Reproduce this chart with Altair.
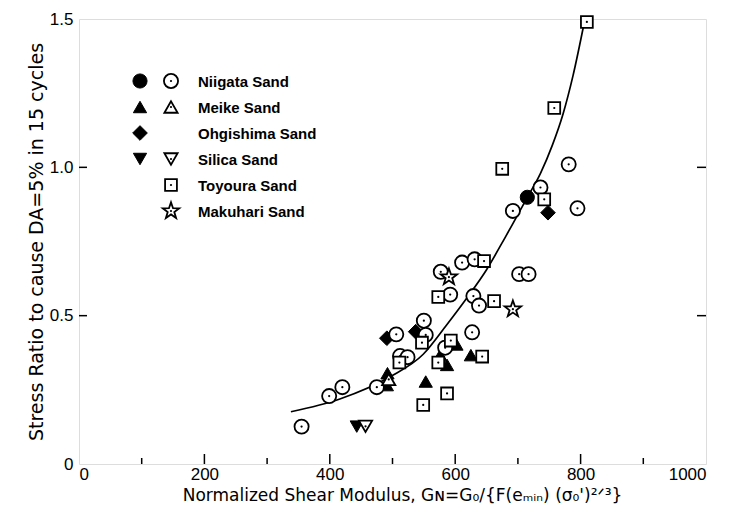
import altair as alt
import pandas as pd

# ---------------- data ----------------
niigata_open_x = [781, 736, 795, 692, 611, 631, 577, 702, 717, 592, 629, 638, 550, 506, 553, 627, 584, 512, 524, 475, 420, 399, 355]
niigata_open_y = [1.010, 0.932, 0.862, 0.853, 0.679, 0.690, 0.648, 0.640, 0.640, 0.571, 0.566, 0.534, 0.483, 0.437, 0.435, 0.444, 0.392, 0.364, 0.360, 0.259, 0.259, 0.229, 0.126]
niigata_filled_x = [715]
niigata_filled_y = [0.899]
meike_filled_x = [492, 491, 553, 576, 587, 602, 625]
meike_filled_y = [0.306, 0.266, 0.278, 0.367, 0.334, 0.403, 0.367]
meike_open_x = [494]
meike_open_y = [0.285]
ohgishima_x = [491, 537, 748]
ohgishima_y = [0.424, 0.446, 0.847]
silica_filled_x = [443]
silica_filled_y = [0.126]
silica_open_x = [457]
silica_open_y = [0.127]
toyoura_x = [810, 758, 675, 742, 646, 573, 662, 547, 593, 573, 643, 511, 587, 549]
toyoura_y = [1.49, 1.20, 0.995, 0.892, 0.684, 0.563, 0.549, 0.409, 0.416, 0.342, 0.362, 0.342, 0.238, 0.199]
makuhari_x = [590, 692]
makuhari_y = [0.630, 0.522]

curve_x = [338, 416, 496, 549, 586, 618, 650, 680, 714, 736, 755, 772, 788, 806]
curve_y = [0.176, 0.219, 0.294, 0.370, 0.468, 0.558, 0.655, 0.765, 0.895, 0.980, 1.075, 1.180, 1.310, 1.490]

x_major_ticks = [200, 400, 600, 800]
x_minor_ticks = [100, 300, 500, 700, 900]
x_labels = [0, 200, 400, 600, 800, 1000]
y_labels = [0, 0.5, 1.0, 1.5]
y_ticks = [0.5, 1.0]

legend_labels = ["Niigata Sand", "Meike Sand", "Ohgishima Sand", "Silica Sand", "Toyoura Sand", "Makuhari Sand"]

STAR = ("M0,-1L0.235,-0.324L0.951,-0.309L0.38,0.124L0.588,0.809L0,0.4"
        "L-0.588,0.809L-0.38,0.124L-0.951,-0.309L-0.235,-0.324Z")

legend_filled = ["circle", "triangle-up", "diamond", "triangle-down", "", ""]
legend_open = ["circle", "triangle-up", "", "triangle-down", "square", STAR]

SIZES = {"circle": 200, "triangle-up": 175, "triangle-down": 175, "diamond": 215, "square": 140, STAR: 300}

# ---------------- tables ----------------
rows = []
def add(xs, ys, shape, style):
    for a, b in zip(xs, ys):
        rows.append({"x": a, "y": b, "shape": shape, "style": style, "size": SIZES[shape]})

add(niigata_open_x, niigata_open_y, "circle", "open")
add(niigata_filled_x, niigata_filled_y, "circle", "filled")
add(meike_open_x, meike_open_y, "triangle-up", "open")
add(meike_filled_x, meike_filled_y, "triangle-up", "filled")
add(ohgishima_x, ohgishima_y, "diamond", "filled")
add(silica_filled_x, silica_filled_y, "triangle-down", "filled")
add(silica_open_x, silica_open_y, "triangle-down", "open")
add(toyoura_x, toyoura_y, "square", "open")
add(makuhari_x, makuhari_y, STAR, "open")
pts = pd.DataFrame(rows)

curve = pd.DataFrame({"x": curve_x, "y": curve_y})
xt_major = pd.DataFrame({"v": x_major_ticks})
xt_minor = pd.DataFrame({"v": x_minor_ticks})
yt = pd.DataFrame({"v": y_ticks})

leg = pd.DataFrame({
    "row": list(range(len(legend_labels))),
    "label": legend_labels,
    "fshape": legend_filled,
    "oshape": legend_open,
})
leg["fsize"] = [SIZES.get(s, 0) for s in leg["fshape"]]
leg["osize"] = [SIZES.get(s, 0) for s in leg["oshape"]]

FONT = "Liberation Sans"
TFONT = "DejaVu Sans"
xs = alt.Scale(domain=[0, 1000], nice=False, zero=False)
ys = alt.Scale(domain=[0, 1.5], nice=False, zero=False)

x_axis = alt.Axis(values=x_labels, ticks=False, domain=False, grid=False, format="d",
                  labelFont=FONT, labelFontSize=17, labelColor="black", labelPadding=2,
                  title="Normalized Shear Modulus, G\u0274=G\u2080/{F(e\u2098\u1d62\u2099) (\u03c3\u2080')\u00b2\u141f\u00b3}",
                  titleFont=TFONT, titleFontSize=17, titleFontWeight="normal", titleColor="black",
                  titleX=323, titleY=31, titleBaseline="middle", titleAnchor="middle")
y_axis = alt.Axis(values=y_labels, ticks=False, domain=False, grid=False,
                  labelFont=FONT, labelFontSize=17, labelColor="black", labelPadding=6,
                  labelExpr="datum.value == 0 ? '0' : format(datum.value, '.1f')",
                  title="Stress Ratio to cause DA=5% in 15 cycles",
                  titleFont=TFONT, titleFontSize=19, titleFontWeight="normal", titleColor="black",
                  titlePadding=3)

X = alt.X("x:Q", scale=xs, axis=x_axis)
Y = alt.Y("y:Q", scale=ys, axis=y_axis)

line = alt.Chart(curve).mark_line(color="black", strokeWidth=1.7, interpolate="monotone", clip=True).encode(x=X, y=Y)

filled = alt.Chart(pts).transform_filter("datum.style == 'filled'").mark_point(
    filled=True, fill="black", stroke="black", strokeWidth=1, opacity=1
).encode(x=X, y=Y, shape=alt.Shape("shape:N", scale=None), size=alt.Size("size:Q", scale=None))

opened = alt.Chart(pts).transform_filter("datum.style == 'open'").mark_point(
    filled=True, fill="white", stroke="black", strokeWidth=1.8, opacity=1
).encode(x=X, y=Y, shape=alt.Shape("shape:N", scale=None), size=alt.Size("size:Q", scale=None))

dots = alt.Chart(pts).transform_filter("datum.style == 'open'").mark_point(
    filled=True, color="black", shape="circle", size=5, opacity=1
).encode(x=X, y=Y)

xtick_major = alt.Chart(xt_major).mark_rule(color="black", strokeWidth=1.5).encode(
    x=alt.X("v:Q", scale=xs, axis=x_axis), y=alt.value(445), y2=alt.value(435))
xtick_minor = alt.Chart(xt_minor).mark_rule(color="black", strokeWidth=1.5).encode(
    x=alt.X("v:Q", scale=xs, axis=x_axis), y=alt.value(445), y2=alt.value(439))
ytick_left = alt.Chart(yt).mark_rule(color="black", strokeWidth=1.5).encode(
    y=alt.Y("v:Q", scale=ys, axis=y_axis), x=alt.value(0), x2=alt.value(8))
ytick_right = alt.Chart(yt).mark_rule(color="black", strokeWidth=1.5).encode(
    y=alt.Y("v:Q", scale=ys, axis=y_axis), x=alt.value(627), x2=alt.value(618))

main = alt.layer(line, xtick_major, xtick_minor, ytick_left, ytick_right, filled, opened, dots)

# legend (pixel layout inside plot area)
LY = alt.Y("py:Q", scale=None, axis=None)
legbase = alt.Chart(leg).transform_calculate(py="62 + 26 * datum.row")
leg_f = legbase.transform_filter("datum.fshape != ''").mark_point(
    filled=True, fill="black", stroke="black", strokeWidth=1, opacity=1
).encode(x=alt.value(61), y=LY, shape=alt.Shape("fshape:N", scale=None), size=alt.Size("fsize:Q", scale=None))
leg_o = legbase.transform_filter("datum.oshape != ''").mark_point(
    filled=True, fill="white", stroke="black", strokeWidth=1.8, opacity=1
).encode(x=alt.value(92), y=LY, shape=alt.Shape("oshape:N", scale=None), size=alt.Size("osize:Q", scale=None))
leg_d = legbase.transform_filter("datum.oshape != ''").mark_point(
    filled=True, color="black", shape="circle", size=5, opacity=1
).encode(x=alt.value(92), y=LY)
leg_t = legbase.mark_text(align="left", baseline="middle", font=FONT, fontSize=15,
                          fontWeight="bold", color="black", dy=1).encode(
    x=alt.value(119), y=LY, text="label:N")
legend = alt.layer(leg_f, leg_o, leg_d, leg_t)

chart = alt.layer(main, legend).resolve_scale(y="independent").properties(
    width=627, height=445,
    padding={"left": 71, "top": 11, "right": 5, "bottom": 40},
    autosize=alt.AutoSizeParams(type="none"),
).configure_view(stroke="black", strokeWidth=2).configure(background="white")

chart.save("out.html", embed_options={"renderer": "svg", "actions": False})
